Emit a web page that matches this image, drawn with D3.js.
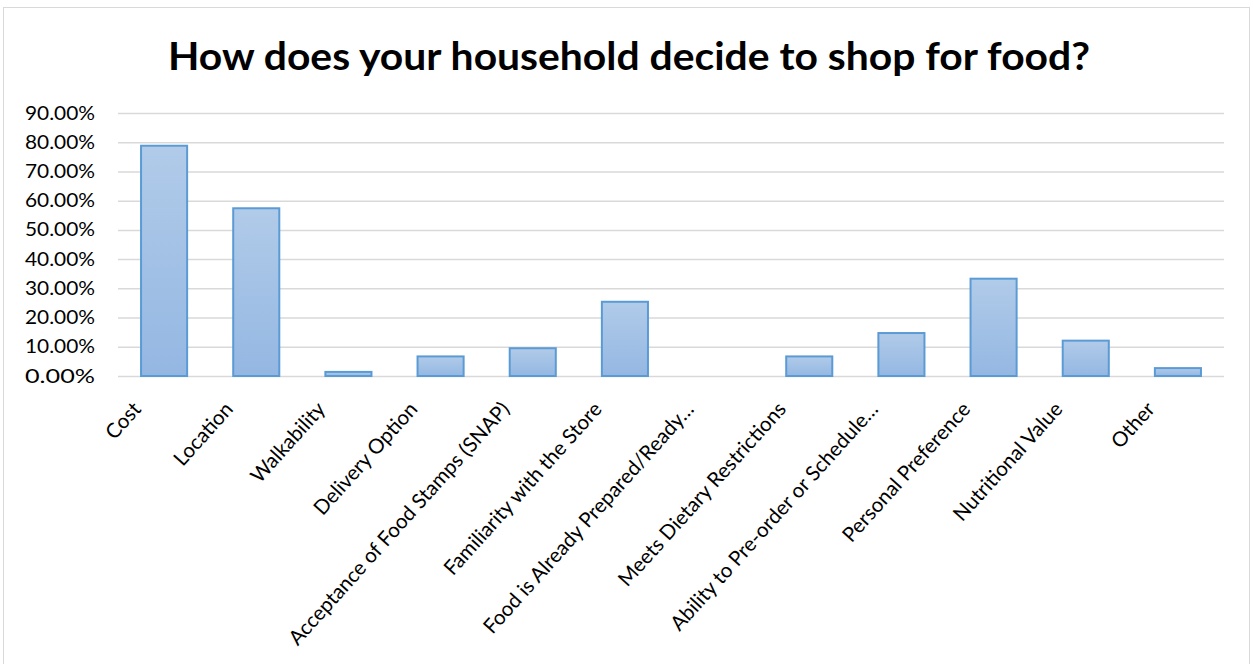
<!DOCTYPE html>
<html>
<head>
<meta charset="utf-8">
<script src="https://cdn.jsdelivr.net/npm/d3@7"></script>
<style>
  html, body { margin: 0; padding: 0; background: #fff; }
  svg { display: block; }
</style>
</head>
<body>
<svg id="chart" width="1253" height="664"></svg>
<script>
// Survey answers: share of households citing each reason
const categories = [
  "Cost", "Location", "Walkability", "Delivery Option",
  "Acceptance of Food Stamps (SNAP)", "Familiarity with the Store",
  "Food is Already Prepared/Ready…", "Meets Dietary Restrictions",
  "Ability to Pre-order or Schedule…", "Personal Preference",
  "Nutritional Value", "Other"
];
const shares = [0.788, 0.574, 0.014, 0.067, 0.095, 0.254, 0.0, 0.067, 0.147, 0.333, 0.121, 0.027];
const yTicks = [0, 0.1, 0.2, 0.3, 0.4, 0.5, 0.6, 0.7, 0.8, 0.9];
const titleText = "How does your household decide to shop for food?";

const svg = d3.select("#chart");
const W = 1253, H = 664;
const margin = { left: 118, right: 29, top: 113, bottom: 288 };
const font = "Lato, 'Open Sans', sans-serif";

// chart frame
svg.append("rect")
  .attr("x", 3.5).attr("y", 7.5)
  .attr("width", 1246).attr("height", 670)
  .attr("fill", "#fff").attr("stroke", "#d9d9d9").attr("stroke-width", 1);

const x = d3.scaleBand()
  .domain(categories)
  .range([margin.left, W - margin.right])
  .paddingInner(0.5).paddingOuter(0.25);

const y = d3.scaleLinear()
  .domain([0, 0.9])
  .range([H - margin.bottom, margin.top]);

// bar gradient
const defs = svg.append("defs");
const grad = defs.append("linearGradient")
  .attr("id", "barFill").attr("x1", 0).attr("y1", 0).attr("x2", 0).attr("y2", 1);
grad.append("stop").attr("offset", "0%").attr("stop-color", "#b1cbe9");
grad.append("stop").attr("offset", "100%").attr("stop-color", "#94b7e2");

// horizontal gridlines
const yAxis = d3.axisLeft(y)
  .tickValues(yTicks)
  .tickSize(-(W - margin.left - margin.right))
  .tickPadding(23)
  .tickFormat(d3.format(".2%"));

const gy = svg.append("g")
  .attr("transform", `translate(${margin.left},0)`)
  .call(yAxis);
gy.select(".domain").remove();
gy.selectAll(".tick line").attr("stroke", "#d9d9d9").attr("stroke-width", 1.5);
gy.selectAll(".tick text")
  .attr("fill", "#000")
  .style("font-family", font)
  .style("font-size", "19px")
  .attr("textLength", 70)
  .attr("lengthAdjust", "spacingAndGlyphs");

// bars
svg.append("g").selectAll("rect")
  .data(categories)
  .join("rect")
  .attr("x", d => x(d))
  .attr("width", x.bandwidth())
  .attr("y", (d, i) => y(shares[i]))
  .attr("height", (d, i) => y(0) - y(shares[i]))
  .attr("fill", "url(#barFill)")
  .attr("stroke", "#5b9bd5")
  .attr("stroke-width", 2)
  .attr("display", (d, i) => shares[i] > 0 ? null : "none");

// category axis with slanted labels
const xAxis = d3.axisBottom(x).tickSize(0).tickPadding(0);
const gx = svg.append("g")
  .attr("transform", `translate(0,${H - margin.bottom})`)
  .call(xAxis);
gx.select(".domain").remove();
gx.selectAll(".tick text")
  .attr("fill", "#000")
  .style("font-family", font)
  .style("font-size", "20.5px")
  .attr("text-anchor", "end")
  .attr("dy", null)
  .attr("transform", "translate(-22,34) rotate(-48)");

// title
svg.append("text")
  .attr("x", 629).attr("y", 70)
  .attr("text-anchor", "middle")
  .style("font-family", font)
  .style("font-weight", "bold")
  .style("font-size", "39px")
  .attr("textLength", 922)
  .attr("lengthAdjust", "spacingAndGlyphs")
  .attr("fill", "#000")
  .text(titleText);
</script>
</body>
</html>
